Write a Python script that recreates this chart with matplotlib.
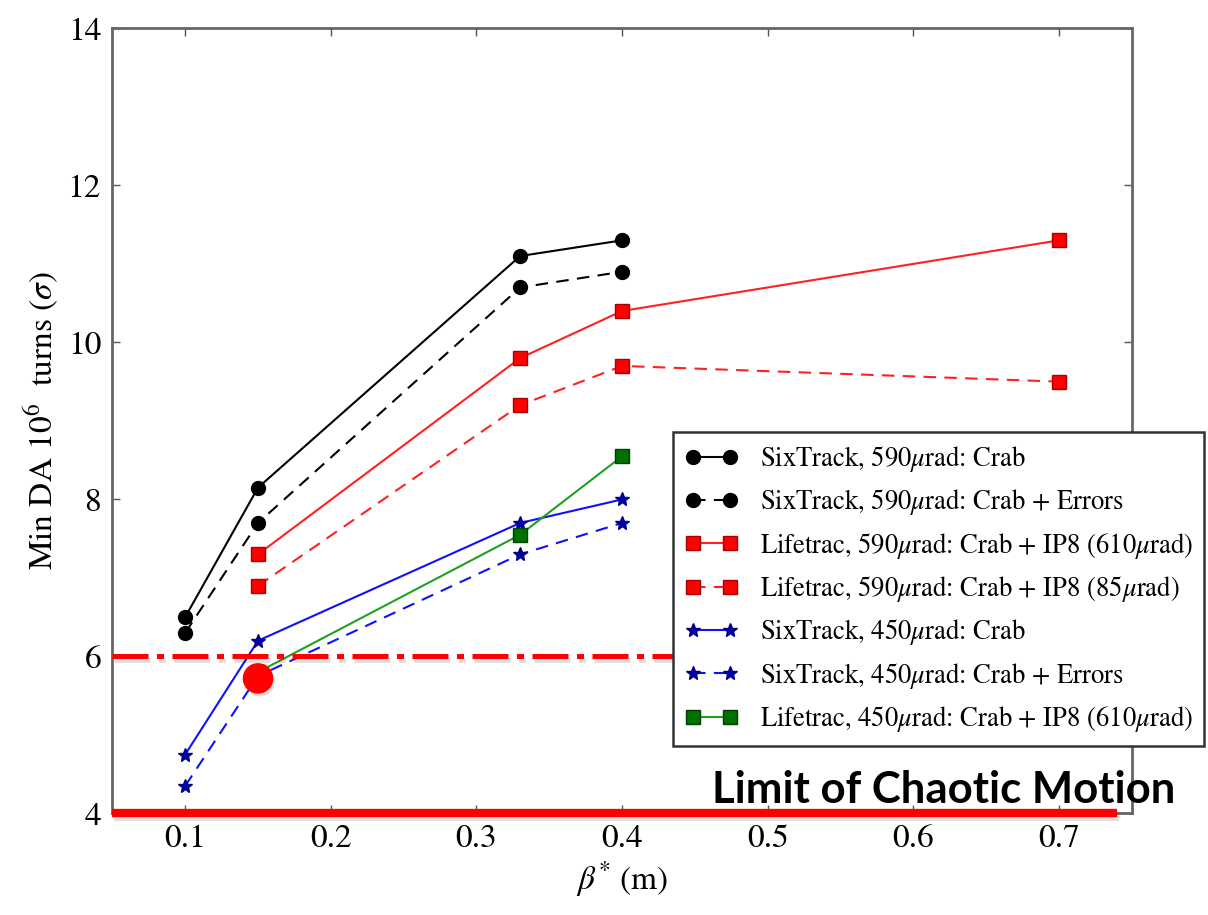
import numpy as np
import matplotlib
matplotlib.use("Agg")
import matplotlib.pyplot as plt
import matplotlib.patheffects as pe

plt.rcParams['font.family'] = 'STIXGeneral'
plt.rcParams['mathtext.fontset'] = 'stix'

# data
beta_six = [0.1, 0.15, 0.33, 0.4]
beta_life = [0.15, 0.33, 0.4, 0.7]
beta_life450 = [0.15, 0.33, 0.4]

six590_crab = [6.5, 8.15, 11.1, 11.3]
six590_err = [6.3, 7.7, 10.7, 10.9]
life590_610 = [7.3, 9.8, 10.4, 11.3]
life590_85 = [6.9, 9.2, 9.7, 9.5]
six450_crab = [4.75, 6.2, 7.7, 8.0]
six450_err = [4.35, 5.75, 7.3, 7.7]
life450_610 = [5.8, 7.55, 8.55]

labels = [r"SixTrack, 590$\mu$rad: Crab",
          r"SixTrack, 590$\mu$rad: Crab + Errors",
          r"Lifetrac, 590$\mu$rad: Crab + IP8 (610$\mu$rad)",
          r"Lifetrac, 590$\mu$rad: Crab + IP8 (85$\mu$rad)",
          r"SixTrack, 450$\mu$rad: Crab",
          r"SixTrack, 450$\mu$rad: Crab + Errors",
          r"Lifetrac, 450$\mu$rad: Crab + IP8 (610$\mu$rad)"]

da_limit = 6.0
chaos_limit = 4.0
marked_beta, marked_da = 0.15, 5.72

fig = plt.figure(figsize=(12.08, 9.15), dpi=100)
ax = fig.add_axes([0.093, 0.111, 0.844, 0.858])

h = []
h += ax.plot(beta_six, six590_crab, 'k-', marker='o', ms=10, lw=1.5)
h += ax.plot(beta_six, six590_err, 'k--', marker='o', ms=10, lw=1.5, dashes=(6, 4))
h += ax.plot(beta_life, life590_610, '-', color='#ff2020', marker='s', ms=10,
             mfc='red', mec='#aa0000', lw=1.5)
h += ax.plot(beta_life, life590_85, '--', color='#ff2020', marker='s', ms=10,
             mfc='red', mec='#aa0000', lw=1.5, dashes=(6, 4))
h += ax.plot(beta_six, six450_crab, '-', color='#1010ff', marker='*', ms=10,
             mfc='#0000aa', mec='#000080', lw=1.5)
h += ax.plot(beta_six, six450_err, '--', color='#1010ff', marker='*', ms=10,
             mfc='#0000aa', mec='#000080', lw=1.5, dashes=(6, 4))
h += ax.plot(beta_life450, life450_610, '-', color='#20a020', marker='s', ms=10,
             mfc='#007000', mec='#004000', lw=1.5)

shadow = [pe.SimpleLineShadow(offset=(1.5, -2.5), alpha=0.12, rho=0.5), pe.Normal()]

# overlay annotations
ax.axhline(da_limit, color='red', lw=3.6, linestyle=(0, (7.2, 1.7, 1.4, 1.7)),
           path_effects=shadow, zorder=4)
ax.plot([0.05, 0.74], [chaos_limit, chaos_limit], color='red', lw=6,
        solid_capstyle='butt', clip_on=False, path_effects=shadow, zorder=6)
ax.plot([marked_beta], [marked_da], 'o', color='red', ms=21, zorder=7,
        path_effects=[pe.SimplePatchShadow(offset=(1.5, -2.5), alpha=0.15), pe.Normal()])
fig.text(0.589, 0.122, "Limit of Chaotic Motion", fontsize=31.5, fontweight='bold',
         family='Lato', color='black', va='baseline', zorder=10)

ax.set_xlim(0.05, 0.75)
ax.set_ylim(4, 14)
ax.set_xticks(np.arange(0.1, 0.71, 0.1))
ax.set_xticklabels(["0.1", "0.2", "0.3", "0.4", "0.5", "0.6", "0.7"])
ax.set_yticks([4, 6, 8, 10, 12, 14])
ax.tick_params(direction='in', length=6, width=1, color='#555555',
               top=True, right=True, labelsize=24, pad=8)
for s in ax.spines.values():
    s.set_color('#666666')
    s.set_linewidth(2)

ax.set_xlabel(r"$\beta^{*}$ (m)", fontsize=24, labelpad=4)
ax.set_ylabel(r"Min DA $10^6$  turns ($\sigma$)", fontsize=24, labelpad=4)

leg = fig.legend(h, labels, loc='upper left', bbox_to_anchor=(0.557, 0.528),
                 fontsize=19.2, numpoints=2, fancybox=False, framealpha=1,
                 edgecolor='#333333', handlelength=2.0, labelspacing=0.5,
                 borderpad=0.45, handletextpad=0.8, borderaxespad=0)
leg.get_frame().set_linewidth(1.8)
leg.set_zorder(5)

plt.savefig("out.png", dpi=100)
